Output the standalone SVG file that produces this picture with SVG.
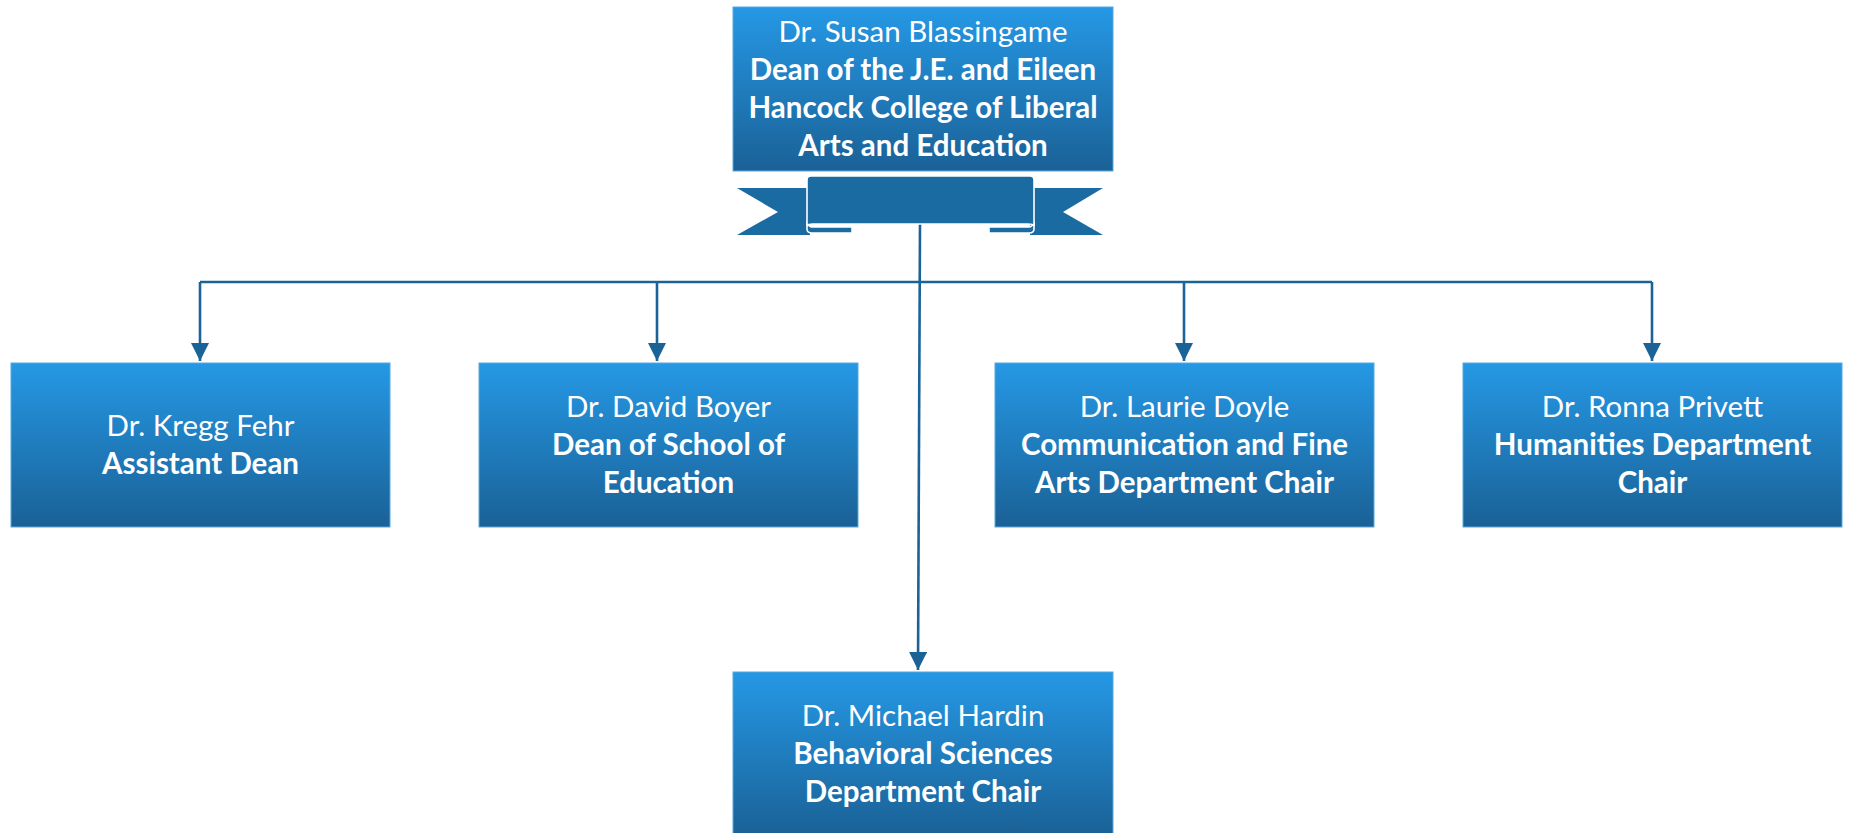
<svg xmlns="http://www.w3.org/2000/svg" width="1850" height="833" viewBox="0 0 1850 833">
<style>
  .box { fill: url(#g); stroke: #5aa7dc; stroke-width: 1; }
  .t { font-family: Lato, "Open Sans", sans-serif; font-size: 29.5px; fill: #ffffff; text-anchor: middle; }
  .n { font-weight: normal; }
  .b { font-weight: bold; }
  .ln { stroke: #1b6396; stroke-width: 2.6; fill: none; }
  .rib { fill: #1a6ba2; }
  .ribw { fill: #1a6ba2; stroke: #ffffff; stroke-width: 1.6; }
</style>
<defs>
  <linearGradient id="g" x1="0" y1="0" x2="0" y2="1">
    <stop offset="0" stop-color="#2598e5"/>
    <stop offset="1" stop-color="#1a6196"/>
  </linearGradient>
  <marker id="arr" markerWidth="18" markerHeight="18" refX="18" refY="9" orient="auto" markerUnits="userSpaceOnUse">
    <path d="M0,0 L18,9 L0,18 Z" fill="#1b6396"/>
  </marker>
</defs>

<g id="connectors">
  <path class="ln" d="M920,223 L918,670" marker-end="url(#arr)"/>
  <path class="ln" d="M200,282 L1652,282"/>
  <path class="ln" d="M200,282 L200,361" marker-end="url(#arr)"/>
  <path class="ln" d="M657,282 L657,361" marker-end="url(#arr)"/>
  <path class="ln" d="M1184,282 L1184,361" marker-end="url(#arr)"/>
  <path class="ln" d="M1652,282 L1652,361" marker-end="url(#arr)"/>
</g>

<g id="dean">
  <rect class="box" x="733" y="7" width="380" height="164"/>
  <text class="t n" x="923" y="42">Dr. Susan Blassingame</text>
  <text class="t b" x="923" y="80">Dean of the J.E. and Eileen</text>
  <text class="t b" x="923" y="118">Hancock College of Liberal</text>
  <text class="t b" x="923" y="156">Arts and Education</text>
</g>

<g id="ribbon">
  <polygon class="rib" points="737,188 810,188 810,235 737,235 778,212"/>
  <polygon class="rib" points="1103,188 1030,188 1030,235 1103,235 1063,212"/>
  <path class="ribw" d="M807,222 L807,229 Q807,233 812,233 L852,233 L852,227 L812,227 Q809,227 807,222 Z"/>
  <path class="ribw" d="M1034,222 L1034,229 Q1034,233 1029,233 L989,233 L989,227 L1029,227 Q1032,227 1034,222 Z"/>
  <path class="ribw" d="M807,226 L807,180 Q807,176 811,176 L1030,176 Q1034,176 1034,180 L1034,226 Q1033,224 1028,224 L813,224 Q808,224 807,226 Z"/>
</g>

<g id="fehr">
  <rect class="box" x="11" y="363" width="379" height="164"/>
  <text class="t n" x="200.5" y="436">Dr. Kregg Fehr</text>
  <text class="t b" x="200.5" y="474">Assistant Dean</text>
</g>

<g id="boyer">
  <rect class="box" x="479" y="363" width="379" height="164"/>
  <text class="t n" x="668.5" y="417">Dr. David Boyer</text>
  <text class="t b" x="668.5" y="455">Dean of School of</text>
  <text class="t b" x="668.5" y="493">Education</text>
</g>

<g id="doyle">
  <rect class="box" x="995" y="363" width="379" height="164"/>
  <text class="t n" x="1184.5" y="417">Dr. Laurie Doyle</text>
  <text class="t b" x="1184.5" y="455">Communication and Fine</text>
  <text class="t b" x="1184.5" y="493">Arts Department Chair</text>
</g>

<g id="privett">
  <rect class="box" x="1463" y="363" width="379" height="164"/>
  <text class="t n" x="1652.5" y="417">Dr. Ronna Privett</text>
  <text class="t b" x="1652.5" y="455">Humanities Department</text>
  <text class="t b" x="1652.5" y="493">Chair</text>
</g>

<g id="hardin">
  <rect class="box" x="733" y="672" width="380" height="164"/>
  <text class="t n" x="923" y="726">Dr. Michael Hardin</text>
  <text class="t b" x="923" y="764">Behavioral Sciences</text>
  <text class="t b" x="923" y="802">Department Chair</text>
</g>
</svg>
